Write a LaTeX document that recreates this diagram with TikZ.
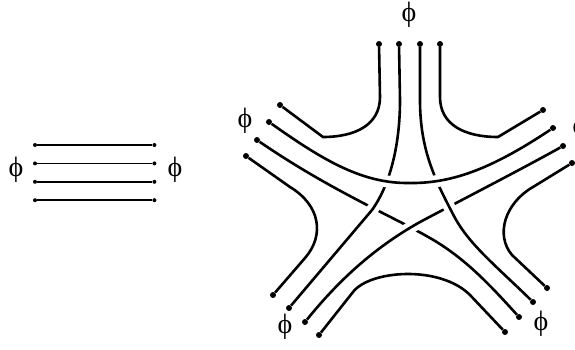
\documentclass[tikz,border=0pt]{standalone}
\usepackage{fontspec}
\setmainfont{Liberation Serif}
\usepackage{tikz}
\usetikzlibrary{positioning}

\begin{document}
\begin{tikzpicture}[
    x=1pt, y=-1pt,
    dot/.style={
        circle,
        fill=black,
        inner sep=0pt,
        minimum size=6pt
    },
    smalldot/.style={
        circle,
        fill=black,
        inner sep=0pt,
        minimum size=4pt
    },
    lbl/.style={
        inner sep=0pt,
        font=\fontsize{28}{28}\selectfont
    },
    strand/.style={
        draw,
        line width=2.6pt
    },
    over/.style={
        preaction={draw=white, line width=12pt}
    },
    thin/.style={
        draw,
        line width=1.6pt
    }
]
\useasboundingbox (0,0) rectangle (575,349);

% Nodes: stack of four lines
\node [smalldot] (s1) at (35,145) {};
\node [smalldot, below=14pt of s1] (s2) {};
\node [smalldot, below=14pt of s2] (s3) {};
\node [smalldot, below=14pt of s3] (s4) {};
\node [smalldot, right=115pt of s1] (e1) {};
\node [smalldot, right=115pt of s2] (e2) {};
\node [smalldot, right=115pt of s3] (e3) {};
\node [smalldot, right=115pt of s4] (e4) {};
\node [lbl] (phia) at (16,170) {ϕ};
\node [lbl] (phib) at (175,170) {ϕ};

% Nodes: star, five arms
\node [dot] (t1) at (379,44) {};
\node [dot] (t2) at (399,44) {};
\node [dot] (t3) at (420,44) {};
\node [dot] (t4) at (440,44) {};
\node [dot] (l1) at (280,105) {};
\node [dot] (l2) at (269,122) {};
\node [dot] (l3) at (257,140) {};
\node [dot] (l4) at (246,156) {};
\node [dot] (r1) at (543,110) {};
\node [dot] (r2) at (553,128) {};
\node [dot] (r3) at (563,146) {};
\node [dot] (r4) at (572,163) {};
\node [dot] (bl1) at (273,295) {};
\node [dot] (bl2) at (289,308) {};
\node [dot] (bl3) at (305,322) {};
\node [dot] (bl4) at (319,335) {};
\node [dot] (br1) at (547,288) {};
\node [dot] (br2) at (533,302) {};
\node [dot] (br3) at (519,317) {};
\node [dot] (br4) at (505,332) {};
\node [lbl] (phit) at (409,15) {ϕ};
\node [lbl] (phil) at (245,121) {ϕ};
\node [lbl] (phir) at (580,128) {ϕ};
\node [lbl] (phibl) at (285,327) {ϕ};
\node [lbl] (phibr) at (541,324) {ϕ};

% Edges: stack
\path [thin] (s1) -- (e1);
\path [thin] (s2) -- (e2);
\path [thin] (s3) -- (e3);
\path [thin] (s4) -- (e4);

% Edges: crossing strands, lowest first
\path [strand] (l3) .. controls (330,190) and (390,215) .. (430,238)
    .. controls (465,258) and (490,285) .. (br3);
\path [strand, over] (t2) -- (400,100) .. controls (400,140) and (392,182) .. (372,210) -- (bl2);
\path [strand, over] (bl3) .. controls (335,285) and (370,250) .. (420,222)
    .. controls (450,206) and (520,170) .. (r3);
\path [strand, over] (t3) -- (420,100) .. controls (420,150) and (435,180) .. (455,218)
    .. controls (470,245) and (495,265) .. (br2);
\path [strand, over] (l2) .. controls (320,158) and (360,183) .. (407,183)
    .. controls (450,184) and (490,170) .. (r2);

% Edges: caps
\path [strand] (t1) -- (380,97) .. controls (380,125) and (355,137) .. (323,137) -- (l1);
\path [strand] (t4) -- (440,97) .. controls (440,125) and (465,137) .. (498,137) -- (r1);
\path [strand] (l4) -- (290,187) .. controls (320,205) and (325,235) .. (305,258) -- (bl1);
\path [strand] (r4) -- (533,187) .. controls (505,203) and (495,235) .. (512,255) -- (br1);
\path [strand] (bl4) -- (353,292) .. controls (370,270) and (440,265) .. (470,295) -- (br4);

\end{tikzpicture}
\end{document}
